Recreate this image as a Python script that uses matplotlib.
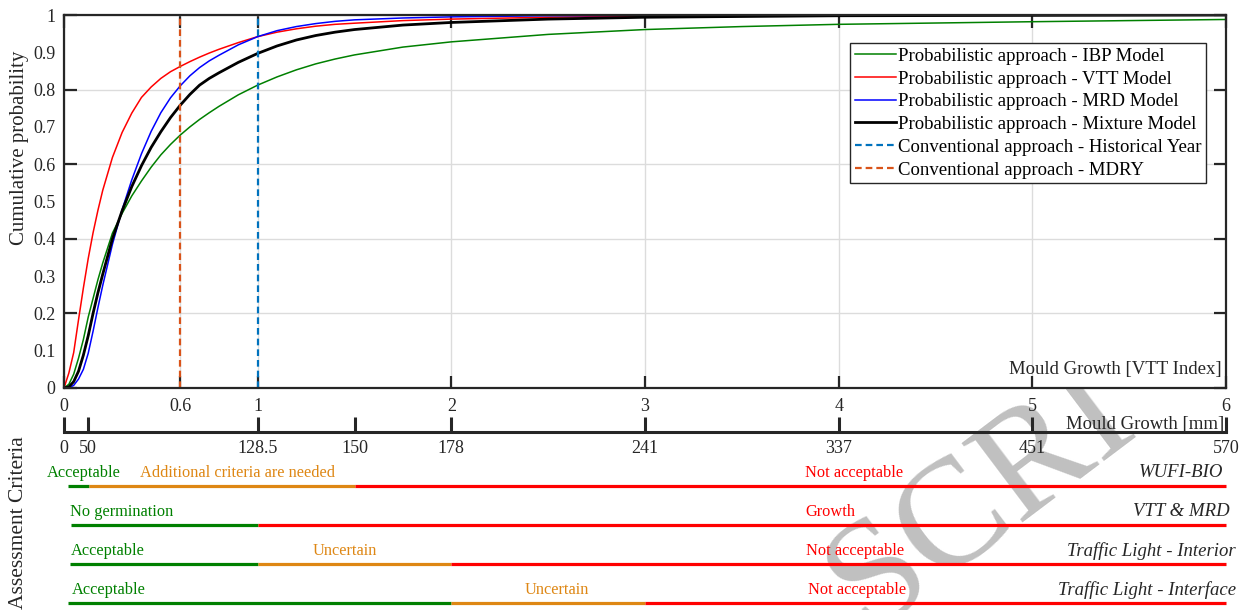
import matplotlib
matplotlib.use("Agg")
import matplotlib.pyplot as plt

plt.rcParams['font.family'] = ['Liberation Serif', 'DejaVu Serif']

# mould growth (VTT index) and cumulative probabilities
vtt = [0, 0.025, 0.05, 0.075, 0.1, 0.125, 0.15, 0.175, 0.2, 0.25, 0.3, 0.35, 0.4, 0.45,
       0.5, 0.55, 0.6, 0.65, 0.7, 0.75, 0.8, 0.9, 1.0, 1.1, 1.2, 1.3, 1.4, 1.5, 1.75,
       2, 2.5, 3, 3.5, 4, 5, 6]
cdf_ibp = [0, 0.01, 0.037, 0.08, 0.13, 0.19, 0.24, 0.29, 0.335, 0.415, 0.468, 0.515, 0.555, 0.592,
           0.625, 0.653, 0.678, 0.70, 0.72, 0.738, 0.755, 0.786, 0.812, 0.834, 0.853, 0.869, 0.882,
           0.893, 0.914, 0.928, 0.948, 0.961, 0.969, 0.975, 0.982, 0.988]
cdf_vtt = [0, 0.04, 0.095, 0.183, 0.268, 0.347, 0.416, 0.476, 0.53, 0.618, 0.685, 0.737, 0.779, 0.807,
           0.83, 0.848, 0.862, 0.875, 0.887, 0.898, 0.908, 0.926, 0.942, 0.954, 0.963, 0.970, 0.975,
           0.978, 0.985, 0.989, 0.994, 0.997, 0.998, 0.999, 1.0, 1.0]
cdf_mrd = [0, 0.001, 0.007, 0.024, 0.05, 0.093, 0.152, 0.215, 0.275, 0.385, 0.478, 0.558, 0.628, 0.688,
           0.738, 0.778, 0.81, 0.837, 0.859, 0.877, 0.892, 0.92, 0.942, 0.958, 0.969, 0.977, 0.983,
           0.987, 0.992, 0.995, 0.998, 0.999, 1.0, 1.0, 1.0, 1.0]
cdf_mix = [0, 0.003, 0.017, 0.045, 0.088, 0.14, 0.20, 0.255, 0.305, 0.40, 0.475, 0.54, 0.596, 0.645,
           0.687, 0.725, 0.758, 0.787, 0.812, 0.83, 0.845, 0.873, 0.897, 0.917, 0.933, 0.945, 0.954,
           0.961, 0.973, 0.98, 0.989, 0.994, 0.996, 0.998, 0.999, 1.0]

historical_year = 1.0
mdry = 0.6

vtt_ticks = [0, 0.6, 1, 2, 3, 4, 5, 6]
vtt_ticklabels = ['0', '0.6', '1', '2', '3', '4', '5', '6']

# mm scale placed at the matching VTT positions
mm_pos = [0, 0.125, 1, 1.5, 2, 3, 4, 5, 6]
mm_labels = ['0', '50', '128.5', '150', '178', '241', '337', '451', '570']

GREEN = '#008000'
ORANGE = '#DE8714'
RED = '#FF0000'
criteria_names = ['WUFI-BIO', 'VTT & MRD', 'Traffic Light - Interior', 'Traffic Light - Interface']
criteria_segments = [
    [(0.02, 0.13, GREEN), (0.13, 1.5, ORANGE), (1.5, 6.0, RED)],
    [(0.035, 1.0, GREEN), (1.0, 6.0, RED)],
    [(0.03, 1.0, GREEN), (1.0, 2.0, ORANGE), (2.0, 6.0, RED)],
    [(0.02, 2.0, GREEN), (2.0, 3.0, ORANGE), (3.0, 6.0, RED)],
]
criteria_texts = [
    [(-0.088, 'Acceptable', GREEN), (0.392, 'Additional criteria are needed', ORANGE),
     (3.825, 'Not acceptable', RED)],
    [(0.031, 'No germination', GREEN), (3.83, 'Growth', RED)],
    [(0.036, 'Acceptable', GREEN), (1.286, 'Uncertain', ORANGE), (3.83, 'Not acceptable', RED)],
    [(0.043, 'Acceptable', GREEN), (2.38, 'Uncertain', ORANGE), (3.84, 'Not acceptable', RED)],
]
name_right = [5.985, 6.02, 6.05, 6.05]

W, H = 1242, 610
fig = plt.figure(figsize=(W / 100, H / 100), dpi=100)

# watermark, partly hidden behind the main axes
fig.text(982 / W, 1 - 500 / H, 'SCRI', fontsize=110, color='#C0C0C0',
         rotation=37, ha='center', va='center', zorder=-1)

ax = fig.add_axes([64 / W, 1 - 388 / H, (1226 - 64) / W, (388 - 15) / H])
ax.set_zorder(2)
ax.plot(vtt, cdf_ibp, color=GREEN, lw=1.1, label='Probabilistic approach - IBP Model')
ax.plot(vtt, cdf_vtt, color=RED, lw=1.1, label='Probabilistic approach - VTT Model')
ax.plot(vtt, cdf_mrd, color='#0000FF', lw=1.1, label='Probabilistic approach - MRD Model')
ax.plot(vtt, cdf_mix, color='black', lw=2.0, label='Probabilistic approach - Mixture Model')
ax.axvline(historical_year, color='#0072BD', lw=1.6, dashes=(3, 1.8),
           label='Conventional approach - Historical Year')
ax.axvline(mdry, color='#D95319', lw=1.6, dashes=(3, 1.8),
           label='Conventional approach - MDRY')

ax.set_xlim(0, 6)
ax.set_ylim(0, 1)
ax.set_xticks(vtt_ticks, vtt_ticklabels)
ax.set_yticks([0, 0.2, 0.4, 0.6, 0.8, 1.0], ['0', '0.2', '0.4', '0.6', '0.8', '1'])
ax.set_yticks([0.1, 0.3, 0.5, 0.7, 0.9], ['0.1', '0.3', '0.5', '0.7', '0.9'], minor=True)
ax.tick_params(which='major', direction='in', length=9, width=1.6, top=True, right=True,
               labelsize=13, color='#262626', labelcolor='#262626')
ax.tick_params(axis='x', pad=7)
ax.tick_params(which='minor', length=0, labelsize=13, labelcolor='#262626', pad=6)
ax.tick_params(axis='y', which='major', pad=6)
ax.grid(True, which='major', color='#DCDCDC', lw=1.0)
ax.set_axisbelow(True)
for s in ax.spines.values():
    s.set_linewidth(1.6)
    s.set_color('#262626')

ax.set_ylabel('Cumulative probability', fontsize=15, color='#262626')
ax.yaxis.set_label_coords(-0.03, 0.643)
ax.annotate('Mould Growth [VTT Index]', xy=(1, 0), xycoords='axes fraction',
            xytext=(-3, 13), textcoords='offset points', ha='right', va='center',
            fontsize=13.5, color='#262626')

leg = ax.legend(loc='upper right', bbox_to_anchor=(0.983, 0.925), fontsize=13.5,
                frameon=True, fancybox=False, edgecolor='#262626', framealpha=1,
                handlelength=2.2, handletextpad=0.1, labelspacing=0.3,
                borderpad=0.25, borderaxespad=0)
leg.get_frame().set_linewidth(1.0)

# secondary mm scale
ax2 = fig.add_axes([64 / W, 1 - 432 / H, (1226 - 64) / W, 0.0001])
ax2.set_zorder(1)
ax2.patch.set_visible(False)
for k in ['left', 'right', 'top']:
    ax2.spines[k].set_visible(False)
ax2.spines['bottom'].set_linewidth(2.2)
ax2.spines['bottom'].set_color('#262626')
ax2.set_xlim(0, 6)
ax2.set_yticks([])
ax2.set_xticks(mm_pos, mm_labels)
ax2.tick_params(axis='x', direction='in', length=11, width=2.2, color='#262626',
                labelsize=13, labelcolor='#262626', pad=6)
ax2.annotate('Mould Growth [mm]', xy=(1, 0), xycoords='axes fraction',
             xytext=(-1, -1), textcoords='offset points', ha='right', va='bottom',
             fontsize=13.5, color='#262626')

# assessment criteria rows
ax3 = fig.add_axes([64 / W, 0, (1226 - 64) / W, 140 / H])
ax3.set_zorder(1)
ax3.patch.set_visible(False)
ax3.axis('off')
ax3.set_xlim(0, 6)
ax3.set_ylim(-0.18, 3.41)
n = len(criteria_names)
for i in range(n):
    y = n - 1 - i
    for x0, x1, c in criteria_segments[i]:
        ax3.plot([x0, x1], [y, y], color=c, lw=2.3, solid_capstyle='butt', clip_on=False)
    for x, t, c in criteria_texts[i]:
        ax3.text(x, y + 0.34, t, color=c, fontsize=11.8, ha='left', va='center', clip_on=False)
    ax3.text(name_right[i], y + 0.34, criteria_names[i], color='#262626', fontsize=13.5,
             style='italic', ha='right', va='center', clip_on=False)

fig.text(19 / W, 1 - 523 / H, 'Assessment Criteria', rotation=90, fontsize=15.5,
         color='#262626', ha='center', va='center')

fig.savefig('out.png', dpi=100)
